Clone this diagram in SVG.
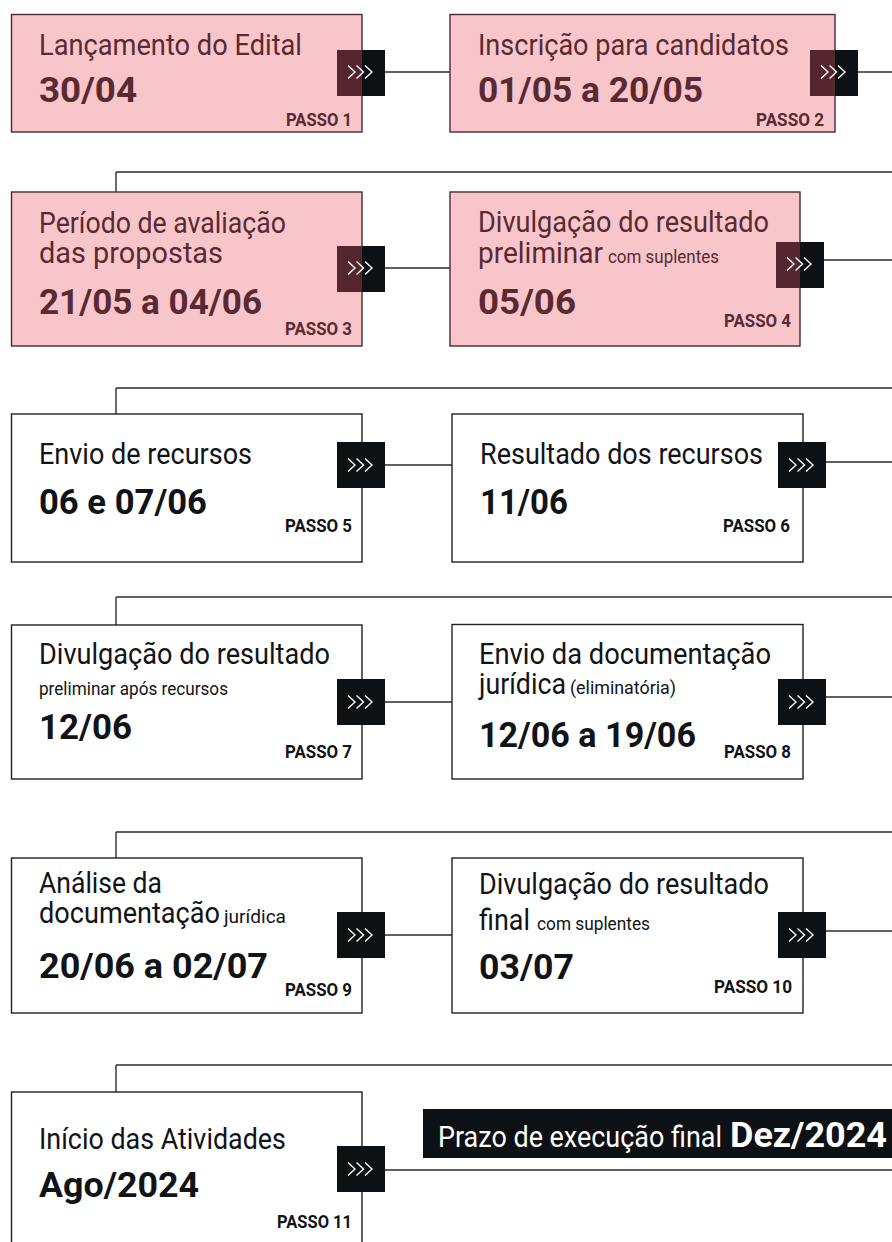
<svg xmlns="http://www.w3.org/2000/svg" width="892" height="1242" viewBox="0 0 892 1242">
<style>
text{font-family:Roboto,"Liberation Sans",sans-serif;}
.t{font-size:29px;font-weight:400;}
.d{font-size:35.5px;font-weight:700;}
.p{font-size:18px;font-weight:700;text-anchor:end;}
.s{font-size:17.5px;font-weight:400;}
.pk rect.b{fill:#f8c6ca;stroke:#4a2a30;stroke-width:1.4;}
.pk text{fill:#5a2932;}
.wh rect.b{fill:#ffffff;stroke:#1e2124;stroke-width:1.4;}
.wh text{fill:#111417;}
.ab{fill:#0e1113;}
.am{fill:#55262d;}
.con line{stroke:#2a2d30;stroke-width:1.4;fill:none;}
.chev{fill:none;stroke:#ffffff;stroke-width:1.4;stroke-linejoin:miter;}
</style>
<defs>
<g id="chev">
<path class="chev" d="M-13,-6.5 L-6,0 L-13,6.5 M-4.5,-6.5 L2.5,0 L-4.5,6.5 M4,-6.5 L11,0 L4,6.5"/>
</g>
</defs>
<rect width="892" height="1242" fill="#ffffff"/>

<g id="connectors" class="con">
<line x1="385" y1="72" x2="450" y2="72"/>
<line x1="858" y1="72" x2="892" y2="72"/>
<line x1="116" y1="172" x2="892" y2="172"/>
<line x1="116" y1="172" x2="116" y2="192"/>
<line x1="385" y1="268" x2="450" y2="268"/>
<line x1="824" y1="260" x2="892" y2="260"/>
<line x1="116" y1="388" x2="892" y2="388"/>
<line x1="116" y1="388" x2="116" y2="414"/>
<line x1="385" y1="465" x2="452" y2="465"/>
<line x1="826" y1="462" x2="892" y2="462"/>
<line x1="116" y1="597" x2="892" y2="597"/>
<line x1="116" y1="597" x2="116" y2="625"/>
<line x1="385" y1="702" x2="452" y2="702"/>
<line x1="826" y1="697" x2="892" y2="697"/>
<line x1="116" y1="832" x2="892" y2="832"/>
<line x1="116" y1="832" x2="116" y2="858"/>
<line x1="385" y1="935" x2="452" y2="935"/>
<line x1="826" y1="931" x2="892" y2="931"/>
<line x1="116" y1="1065" x2="892" y2="1065"/>
<line x1="116" y1="1065" x2="116" y2="1092"/>
<line x1="385" y1="1170" x2="892" y2="1170"/>
</g>

<g id="passo1" class="pk">
<rect class="b" x="11.5" y="14.5" width="350.5" height="117.5"/>
<text class="t" x="39" y="55" textLength="263" lengthAdjust="spacingAndGlyphs">Lançamento do Edital</text>
<text class="d" x="39" y="102" textLength="98" lengthAdjust="spacingAndGlyphs">30/04</text>
<text class="p" x="352" y="126" textLength="66" lengthAdjust="spacingAndGlyphs">PASSO 1</text>
<rect class="am" x="337" y="50" width="25" height="46"/>
<rect class="ab" x="362" y="50" width="23" height="46"/>
<use href="#chev" x="361" y="72"/>
</g>

<g id="passo2" class="pk">
<rect class="b" x="450" y="14.5" width="385" height="117.5"/>
<text class="t" x="478" y="55" textLength="311" lengthAdjust="spacingAndGlyphs">Inscrição para candidatos</text>
<text class="d" x="478" y="102" textLength="225" lengthAdjust="spacingAndGlyphs">01/05 a 20/05</text>
<text class="p" x="824" y="126" textLength="68" lengthAdjust="spacingAndGlyphs">PASSO 2</text>
<rect class="am" x="810" y="50" width="25" height="46"/>
<rect class="ab" x="835" y="50" width="23" height="46"/>
<use href="#chev" x="834" y="72"/>
</g>

<g id="passo3" class="pk">
<rect class="b" x="11.5" y="192" width="350.5" height="154"/>
<text class="t"><tspan x="39" y="233" textLength="247" lengthAdjust="spacingAndGlyphs">Período de avaliação</tspan><tspan x="39" y="263" textLength="184" lengthAdjust="spacingAndGlyphs">das propostas</tspan></text>
<text class="d" x="39" y="314" textLength="223" lengthAdjust="spacingAndGlyphs">21/05 a 04/06</text>
<text class="p" x="352" y="335" textLength="67" lengthAdjust="spacingAndGlyphs">PASSO 3</text>
<rect class="am" x="337" y="246" width="25" height="46"/>
<rect class="ab" x="362" y="246" width="23" height="46"/>
<use href="#chev" x="361" y="268"/>
</g>

<g id="passo4" class="pk">
<rect class="b" x="450" y="192" width="350" height="154"/>
<text class="t"><tspan x="478" y="232" textLength="291" lengthAdjust="spacingAndGlyphs">Divulgação do resultado</tspan><tspan x="478" y="263" textLength="125" lengthAdjust="spacingAndGlyphs">preliminar</tspan><tspan class="s" x="608" y="263" textLength="111" lengthAdjust="spacingAndGlyphs">com suplentes</tspan></text>
<text class="d" x="478" y="314" textLength="98" lengthAdjust="spacingAndGlyphs">05/06</text>
<text class="p" x="791" y="327" textLength="67" lengthAdjust="spacingAndGlyphs">PASSO 4</text>
<rect class="am" x="776" y="242" width="24" height="46"/>
<rect class="ab" x="800" y="242" width="24" height="46"/>
<use href="#chev" x="800" y="264"/>
</g>

<g id="passo5" class="wh">
<rect class="b" x="11.5" y="414" width="350.5" height="148"/>
<text class="t" x="39" y="464" textLength="213" lengthAdjust="spacingAndGlyphs">Envio de recursos</text>
<text class="d" x="39" y="514" textLength="168" lengthAdjust="spacingAndGlyphs">06 e 07/06</text>
<text class="p" x="352" y="532" textLength="67" lengthAdjust="spacingAndGlyphs">PASSO 5</text>
<rect class="ab" x="337" y="442" width="48" height="46"/>
<use href="#chev" x="361" y="465"/>
</g>

<g id="passo6" class="wh">
<rect class="b" x="452" y="414" width="351" height="148"/>
<text class="t" x="480" y="464" textLength="283" lengthAdjust="spacingAndGlyphs">Resultado dos recursos</text>
<text class="d" x="480" y="514" textLength="88" lengthAdjust="spacingAndGlyphs">11/06</text>
<text class="p" x="790" y="532" textLength="67" lengthAdjust="spacingAndGlyphs">PASSO 6</text>
<rect class="ab" x="778" y="442" width="48" height="46"/>
<use href="#chev" x="802" y="465"/>
</g>

<g id="passo7" class="wh">
<rect class="b" x="11.5" y="625" width="350.5" height="154"/>
<text class="t"><tspan x="39" y="664" textLength="291" lengthAdjust="spacingAndGlyphs">Divulgação do resultado</tspan><tspan class="s" x="39" y="695" textLength="189" lengthAdjust="spacingAndGlyphs">preliminar após recursos</tspan></text>
<text class="d" x="39" y="739" textLength="93" lengthAdjust="spacingAndGlyphs">12/06</text>
<text class="p" x="352" y="758" textLength="67" lengthAdjust="spacingAndGlyphs">PASSO 7</text>
<rect class="ab" x="337" y="679" width="48" height="46"/>
<use href="#chev" x="361" y="702"/>
</g>

<g id="passo8" class="wh">
<rect class="b" x="452" y="624.5" width="351" height="154.5"/>
<text class="t"><tspan x="479" y="664" textLength="292" lengthAdjust="spacingAndGlyphs">Envio da documentação</tspan><tspan x="479" y="694" textLength="87" lengthAdjust="spacingAndGlyphs">jurídica</tspan><tspan class="s" x="570" y="694" textLength="106" lengthAdjust="spacingAndGlyphs">(eliminatória)</tspan></text>
<text class="d" x="479" y="747" textLength="217" lengthAdjust="spacingAndGlyphs">12/06 a 19/06</text>
<text class="p" x="791" y="758" textLength="67" lengthAdjust="spacingAndGlyphs">PASSO 8</text>
<rect class="ab" x="778" y="679" width="48" height="46"/>
<use href="#chev" x="802" y="702"/>
</g>

<g id="passo9" class="wh">
<rect class="b" x="11.5" y="858" width="350.5" height="155"/>
<text class="t"><tspan x="39" y="893" textLength="123" lengthAdjust="spacingAndGlyphs">Análise da</tspan><tspan x="39" y="923" textLength="181" lengthAdjust="spacingAndGlyphs">documentação</tspan><tspan class="s" x="224" y="923" textLength="62" lengthAdjust="spacingAndGlyphs">jurídica</tspan></text>
<text class="d" x="39" y="978" textLength="229" lengthAdjust="spacingAndGlyphs">20/06 a 02/07</text>
<text class="p" x="352" y="996" textLength="67" lengthAdjust="spacingAndGlyphs">PASSO 9</text>
<rect class="ab" x="337" y="912" width="48" height="46"/>
<use href="#chev" x="361" y="935"/>
</g>

<g id="passo10" class="wh">
<rect class="b" x="452" y="858" width="351" height="155"/>
<text class="t"><tspan x="479" y="894" textLength="290" lengthAdjust="spacingAndGlyphs">Divulgação do resultado</tspan><tspan x="479" y="930" textLength="51" lengthAdjust="spacingAndGlyphs">final</tspan><tspan class="s" x="537" y="930" textLength="113" lengthAdjust="spacingAndGlyphs">com suplentes</tspan></text>
<text class="d" x="479" y="979" textLength="95" lengthAdjust="spacingAndGlyphs">03/07</text>
<text class="p" x="792" y="993" textLength="78" lengthAdjust="spacingAndGlyphs">PASSO 10</text>
<rect class="ab" x="778" y="912" width="48" height="46"/>
<use href="#chev" x="802" y="935"/>
</g>

<g id="passo11" class="wh">
<rect class="b" x="11.5" y="1092" width="350.5" height="170"/>
<text class="t" x="39" y="1149" textLength="247" lengthAdjust="spacingAndGlyphs">Início das Atividades</text>
<text class="d" x="39" y="1197" textLength="160" lengthAdjust="spacingAndGlyphs">Ago/2024</text>
<text class="p" x="352" y="1228" textLength="75" lengthAdjust="spacingAndGlyphs">PASSO 11</text>
<rect class="ab" x="337" y="1146" width="48" height="46"/>
<use href="#chev" x="361" y="1169"/>
</g>

<g id="prazo">
<rect x="423" y="1109" width="480" height="49" fill="#0e1113"/>
<text class="t" x="438" y="1147" fill="#ffffff" textLength="284" lengthAdjust="spacingAndGlyphs">Prazo de execução final</text>
<text class="d" x="730" y="1147" fill="#ffffff" textLength="157" lengthAdjust="spacingAndGlyphs">Dez/2024</text>
</g>
</svg>
